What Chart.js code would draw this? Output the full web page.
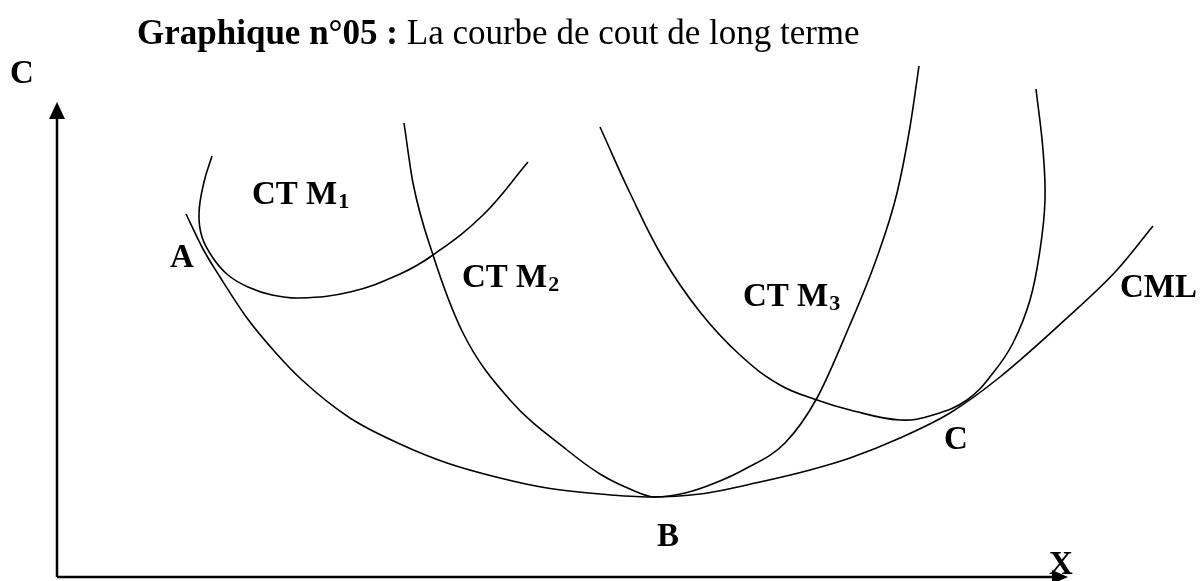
<!DOCTYPE html>
<html>
<head>
<meta charset="utf-8">
<script src="https://cdn.jsdelivr.net/npm/chart.js@4/dist/chart.umd.min.js"></script>
<style>
  html, body { margin: 0; padding: 0; background: #fff; }
  canvas { display: block; }
</style>
</head>
<body>
<canvas id="chart" width="1200" height="581"></canvas>
<script>
// values, x = quantity, y = cost (origin at the axes corner)
const cmlX = [129, 146, 163, 190, 218, 245, 293, 343, 390, 443, 490, 543, 593, 643, 703, 753, 793, 843, 893, 943, 1010, 1060, 1096];
const cmlY = [363, 328, 300, 259, 225, 197, 159, 133, 114, 99, 89, 83, 80, 83, 95, 107, 119, 139, 164, 200, 259, 307, 351];

const ctm1X = [155, 147, 142, 145, 156, 171, 191, 215, 243, 293, 343, 376, 426, 471];
const ctm1Y = [421, 395, 364, 340, 319, 302, 290, 282, 279, 285, 303, 322, 362, 415];

const ctm2X = [347, 356, 376, 406, 453, 510, 543, 573, 598, 628, 658, 688, 728, 760, 792, 819, 840, 853, 862];
const ctm2Y = [454, 394, 322, 244, 177, 127, 103, 88, 80, 84, 94, 108, 134, 179, 250, 317, 384, 450, 511];

const ctm3X = [543, 573, 606, 643, 683, 723, 760, 793, 843, 876, 910, 936, 956, 973, 983, 988, 986, 979];
const ctm3Y = [450, 384, 319, 265, 222, 192, 177, 167, 157, 162, 177, 204, 234, 277, 327, 377, 427, 488];

// drawn length of the two axes, in the same units
const axisLenX = 1011;
const axisLenY = 475;

// curve and point labels, anchored in data units
const labels = [
    { text: 'CT M', sub: '1', x: 195, y: 382, align: 'left' },
    { text: 'CT M', sub: '2', x: 405, y: 299, align: 'left' },
    { text: 'CT M', sub: '3', x: 686, y: 280, align: 'left' },
    { text: 'CML', x: 1063, y: 289, align: 'left' },
    { text: 'A', x: 125, y: 319, align: 'center' },
    { text: 'B', x: 611, y: 40, align: 'center' },
    { text: 'C', x: 899, y: 137, align: 'center' },
    { text: 'C', x: -35, y: 503, align: 'center' },
    { text: 'X', x: 1004, y: 12, align: 'center' },
];

const titleBold = 'Graphique n°05 :';
const titleRest = ' La courbe de cout de long terme';

function toPoints(xs, ys) {
    return xs.map((x, i) => ({ x: x, y: ys[i] }));
}

function curve(xs, ys, monotone) {
    return {
        data: toPoints(xs, ys),
        showLine: true,
        borderColor: '#000',
        borderWidth: 1.6,
        pointRadius: 0,
        tension: 0.4,
        cubicInterpolationMode: monotone ? 'monotone' : 'default',
        clip: false,
    };
}

const serif = '"Liberation Serif", "Times New Roman", serif';

const decorations = {
    id: 'decorations',
    afterDraw: (chart) => {
        const { ctx } = chart;
        const sx = chart.scales.x, sy = chart.scales.y;
        const x0 = sx.getPixelForValue(0), y0 = sy.getPixelForValue(0);
        const xEnd = sx.getPixelForValue(axisLenX), yEnd = sy.getPixelForValue(axisLenY);

        ctx.save();
        ctx.strokeStyle = '#000';
        ctx.fillStyle = '#000';
        ctx.lineWidth = 2.5;

        // axes
        ctx.beginPath();
        ctx.moveTo(x0, y0);
        ctx.lineTo(x0, yEnd + 12);
        ctx.moveTo(x0, y0);
        ctx.lineTo(xEnd - 10, y0);
        ctx.stroke();

        // arrow heads
        ctx.beginPath();
        ctx.moveTo(x0, yEnd);
        ctx.lineTo(x0 - 8, yEnd + 17);
        ctx.lineTo(x0 + 8, yEnd + 17);
        ctx.closePath();
        ctx.fill();

        ctx.beginPath();
        ctx.moveTo(xEnd, y0);
        ctx.lineTo(xEnd - 16, y0 - 7);
        ctx.lineTo(xEnd - 16, y0 + 7);
        ctx.closePath();
        ctx.fill();

        // labels
        ctx.textBaseline = 'middle';
        labels.forEach(l => {
            const px = sx.getPixelForValue(l.x);
            const py = sy.getPixelForValue(l.y);
            ctx.font = 'bold 33px ' + serif;
            ctx.textAlign = l.align;
            ctx.fillText(l.text, px, py);
            if (l.sub) {
                const w = ctx.measureText(l.text).width;
                ctx.font = 'bold 22px ' + serif;
                ctx.textAlign = 'left';
                ctx.fillText(l.sub, px + w + 1, py + 7);
            }
        });

        // title, bold part then regular part
        ctx.textAlign = 'left';
        ctx.textBaseline = 'alphabetic';
        ctx.font = 'bold 35px ' + serif;
        ctx.fillText(titleBold, 137, 44);
        const wb = ctx.measureText(titleBold).width;
        ctx.font = '35px ' + serif;
        ctx.fillText(titleRest, 137 + wb, 44);

        ctx.restore();
    }
};

new Chart(document.getElementById('chart'), {
    type: 'scatter',
    data: {
        datasets: [
            curve(cmlX, cmlY, true),
            curve(ctm1X, ctm1Y, false),
            curve(ctm2X, ctm2Y, true),
            curve(ctm3X, ctm3Y, false),
        ]
    },
    options: {
        responsive: false,
        animation: false,
        layout: { padding: { left: 57, right: 0, top: 0, bottom: 4 } },
        elements: { line: { capBezierPoints: false } },
        scales: {
            x: { type: 'linear', min: 0, max: 1143, display: false },
            y: { type: 'linear', min: 0, max: 577, display: false },
        },
        plugins: {
            legend: { display: false },
            tooltip: { enabled: false },
        },
    },
    plugins: [decorations],
});
</script>
</body>
</html>
